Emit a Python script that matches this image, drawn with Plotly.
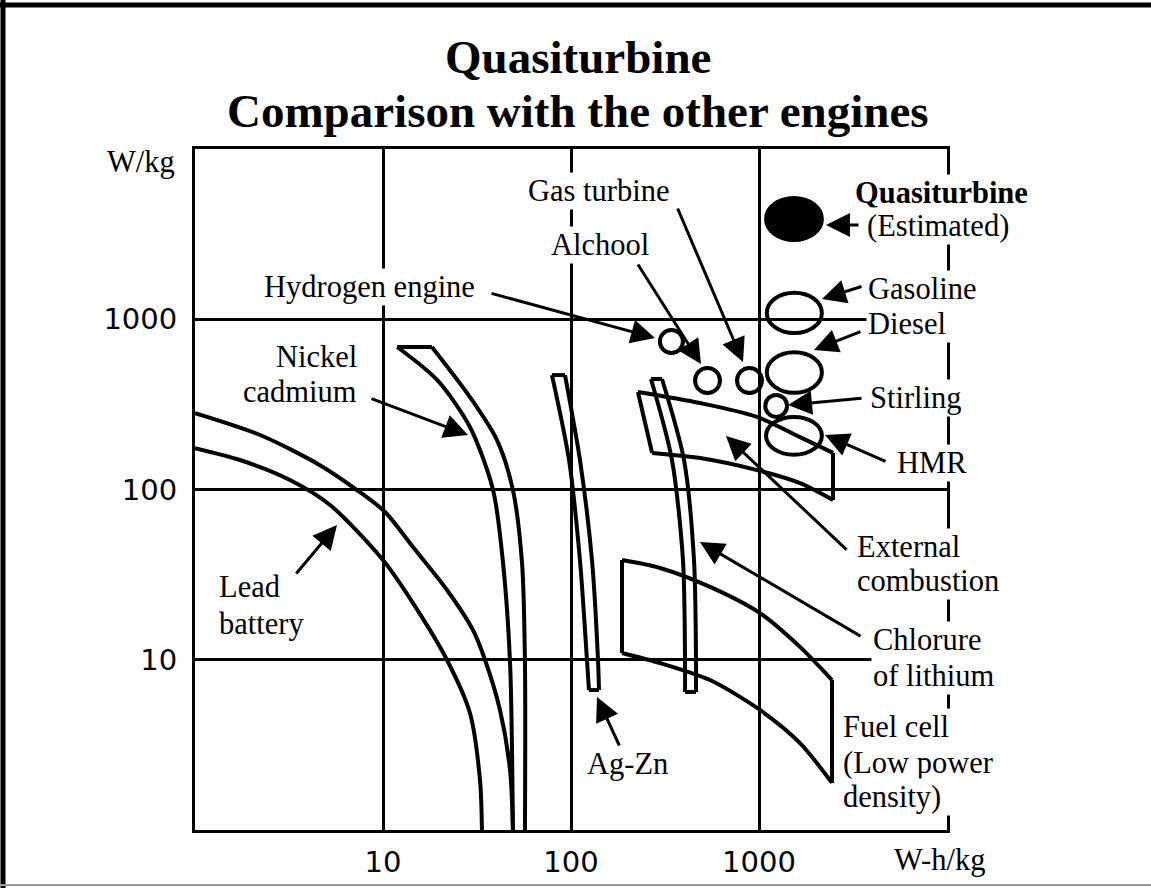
import plotly.graph_objects as go

# ---------------- data (x: W-h/kg, y: W/kg) ----------------
tick_vals = [10, 100, 1000]
tick_text = ["10", "100", "1000"]

lead_outer_x = [1.0, 2.22, 4.62, 7.27, 10.25, 14.44, 21.9, 30.1, 34.9, 41.9, 47.4, 49.1]
lead_outer_y = [281, 209, 139, 99.3, 73.8, 45.9, 25.7, 14.95, 9.97, 5.07, 2.25, 1.0]
lead_inner_x = [1.0, 1.735, 3.20, 5.23, 10.0, 14.44, 21.9, 29.0, 32.8, 33.6]
lead_inner_y = [175, 149, 113.7, 81.1, 38.5, 21.5, 9.97, 4.87, 1.97, 1.0]

nicd_x = [56.9, 56.9, 54.9, 49.1, 40.4, 29.0, 18.2, None, 18.2, 11.9, None,
          11.9, 19.4, 29.0, 38.5, 43.5, 47.4, 49.1]
nicd_y = [1.0, 9.57, 37.0, 99.3, 195, 349, 687, None, 687, 687, None,
          687, 440, 233, 99.3, 37.0, 9.57, 1.0]

agzn_x = [124.6, 121.6, 111.6, 97.6, 79.2, None, 79.2, 92.9, None,
          92.9, 111.6, 129.3, 139.2, 140.9, None, 140.9, 124.6]
agzn_y = [6.64, 9.97, 38.5, 149, 470, None, 470, 470, None,
          470, 149, 38.5, 9.97, 6.64, None, 6.64, 6.64]

licl_x = [404.1, 404.1, 394.2, 344.5, 266.4, None, 266.4, 304.8, None,
          304.8, 399.2, 451.1, 462.3, 462.3, None, 462.3, 404.1]
licl_y = [6.47, 9.97, 38.5, 149, 445.7, None, 445.7, 445.7, None,
          445.7, 149, 38.5, 9.97, 6.47, None, 6.47, 6.47]

ext_x = [227, 486, 976, 1652, 2475, None, 2475, 2475, None,
         2475, 1652, 976, 486, 270, None, 270, 227]
ext_y = [374, 322, 267, 203, 164, None, 164, 86.8, None,
         86.8, 109, 130, 153, 164, None, 164, 374]

fuel_x = [186.7, 297.4, 548.9, 1012, 1652, 2445, None, 2445, 2445, None,
          2445, 1652, 1012, 548.9, 297.4, 186.7, None, 186.7, 186.7]
fuel_y = [38.5, 34.6, 26.8, 18.8, 11.9, 7.6, None, 7.6, 1.89, None,
          1.89, 3.24, 5.07, 7.6, 9.57, 10.96, None, 10.96, 38.5]

# engines: bounding ranges of each ellipse
engine_names = ["Quasiturbine", "Gasoline", "Diesel", "Stirling", "HMR",
                "Hydrogen engine", "Alchool", "Gas turbine"]
engine_x_low = [1090, 1100, 1100, 1080, 1090, 297, 457, 764]
engine_x_high = [2160, 2160, 2160, 1410, 2160, 394, 620, 1037]
engine_y_low = [2920, 830, 370, 267, 160, 634, 369, 369]
engine_y_high = [5150, 1430, 640, 359, 267, 865, 517, 517]
engine_filled = [True, False, False, False, False, False, False, False]

# ---------------- layout helpers (pixel -> paper) ----------------
W, H = 1151, 888
L, R, T, B = 195, 947, 149, 830


def px(xp):
    return (xp - L) / (R - L)


def py(yp):
    return (B - yp) / (B - T)


fig = go.Figure()

line_style = dict(color="black", width=4, shape="spline", smoothing=0.8)
for xs, ys in [(lead_outer_x, lead_outer_y), (lead_inner_x, lead_inner_y),
               (nicd_x, nicd_y), (agzn_x, agzn_y), (licl_x, licl_y),
               (ext_x, ext_y), (fuel_x, fuel_y)]:
    fig.add_trace(go.Scatter(x=xs, y=ys, mode="lines", line=line_style,
                             connectgaps=False, hoverinfo="skip", showlegend=False))

for i in range(len(engine_names)):
    fig.add_shape(type="circle", xref="x", yref="y",
                  x0=engine_x_low[i], x1=engine_x_high[i],
                  y0=engine_y_low[i], y1=engine_y_high[i],
                  line=dict(color="black", width=4),
                  fillcolor="black" if engine_filled[i] else "rgba(0,0,0,0)",
                  layer="above")

# outer frame of the picture
fig.add_shape(type="line", xref="paper", yref="paper", x0=px(0), x1=px(W), y0=py(5), y1=py(5),
              line=dict(color="black", width=5))
fig.add_shape(type="line", xref="paper", yref="paper", x0=px(3), x1=px(3), y0=py(0), y1=py(H),
              line=dict(color="black", width=5))
fig.add_shape(type="line", xref="paper", yref="paper", x0=px(0), x1=px(W), y0=py(885), y1=py(885),
              line=dict(color="#9a9a9a", width=2))

serif = "Liberation Serif"
annotations = []

# title
annotations.append(dict(text="<b>Quasiturbine</b>", x=px(578), y=py(57), xref="paper", yref="paper",
                        xanchor="center", yanchor="middle", showarrow=False,
                        font=dict(family=serif, size=47, color="black")))
annotations.append(dict(text="<b>Comparison with the other engines</b>", x=px(578), y=py(111),
                        xref="paper", yref="paper", xanchor="center", yanchor="middle",
                        showarrow=False, font=dict(family=serif, size=47, color="black")))

# labels: (text, x, y, anchor, width)
labels = [
    ("Gas turbine", 598, 191, "center", None),
    ("Alchool", 600, 245, "center", None),
    ("Hydrogen engine", 369, 287, "center", None),
    ("Nickel", 359, 357, "right", None),
    ("cadmium", 359, 392, "right", None),
    ("Lead", 217, 587, "left", None),
    ("battery", 217, 624, "left", None),
    ("Ag-Zn", 627, 764, "center", None),
    ("<b>Quasiturbine</b>", 853, 193, "left", None),
    ("(Estimated)", 865, 226, "left", None),
    ("Gasoline", 866, 289, "left", None),
    ("Diesel", 866, 324, "left", 100),
    ("Stirling", 868, 398, "left", None),
    ("HMR", 895, 463, "left", None),
    ("External", 855, 547, "left", None),
    ("combustion", 855, 581, "left", None),
    ("Chlorure", 871, 640, "left", None),
    ("of lithium", 871, 676, "left", None),
    ("Fuel cell", 841, 727, "left", 120),
    ("(Low power", 841, 763, "left", None),
    ("density)", 841, 797, "left", 120),
    ("W/kg", 177, 162, "right", None),
    ("W-h/kg", 892, 860, "left", None),
]
for text, xx, yy, anc, wd in labels:
    a = dict(text=text, x=px(xx), y=py(yy), xref="paper", yref="paper",
             xanchor=anc, yanchor="middle", showarrow=False, bgcolor="white",
             borderpad=1, font=dict(family=serif, size=30.5, color="black"))
    if wd is not None:
        a["width"] = wd
        a["align"] = "left"
    annotations.append(a)

# arrows: (tip_x, tip_y, tail_x, tail_y) in pixels
arrows = [
    (655, 338, 490, 293),
    (701, 364, 637, 263),
    (743, 362, 677, 207),
    (826, 225, 860, 225),
    (822, 299, 863, 286),
    (814, 350, 862, 331),
    (788, 405, 863, 398),
    (825, 435, 887, 462),
    (726, 436, 848, 551),
    (700, 542, 862, 637),
    (597, 697, 620, 747),
    (468, 435, 370, 398),
    (337, 525, 295, 575),
]
for tx, ty, sx, sy in arrows:
    annotations.append(dict(text="", x=px(tx), y=py(ty), xref="paper", yref="paper",
                            ax=sx - tx, ay=sy - ty, showarrow=True, arrowhead=2,
                            arrowsize=1.6, arrowwidth=3, arrowcolor="black", standoff=0))

axis_common = dict(type="log", range=[0, 4], tickvals=tick_vals, ticktext=tick_text,
                   showgrid=True, gridcolor="black", gridwidth=3, showline=True,
                   linecolor="black", linewidth=3, mirror=True, ticks="", zeroline=False,
                   tickfont=dict(family="DejaVu Sans", size=29, color="black"),
                   fixedrange=True, automargin=False)

fig.update_layout(
    width=W, height=H, autosize=False,
    margin=dict(l=L, r=W - R, t=T, b=H - B, autoexpand=False),
    paper_bgcolor="white", plot_bgcolor="white",
    xaxis=dict(axis_common, ticklabelstandoff=4),
    yaxis=dict(axis_common, ticklabelstandoff=9),
    annotations=annotations,
    showlegend=False,
)

page_fix = (
    "document.documentElement.style.margin='0';"
    "document.documentElement.style.padding='0';"
    "document.documentElement.style.overflow='hidden';"
    "document.documentElement.style.height='888px';"
    "document.body.style.margin='0';"
    "document.body.style.padding='0';"
    "document.body.style.overflow='hidden';"
    "document.body.style.height='888px';"
    "var g=document.getElementsByClassName('plotly-graph-div')[0];"
    "g.style.position='absolute';g.style.left='0px';g.style.top='0px';"
)

fig.write_html("out.html", config={"displayModeBar": False, "responsive": False},
               post_script=page_fix)
